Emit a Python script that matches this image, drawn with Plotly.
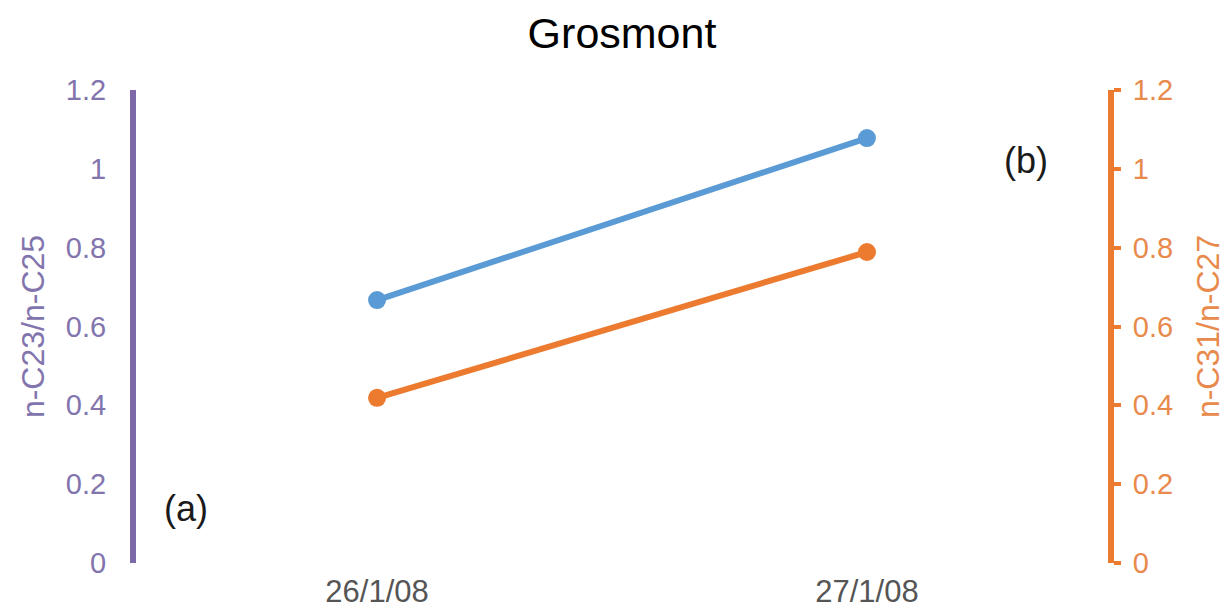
import plotly.graph_objects as go

dates = ["26/1/08", "27/1/08"]
c23_c25 = [0.667, 1.078]
c31_c27 = [0.419, 0.789]
y_ticks = [0, 0.2, 0.4, 0.6, 0.8, 1.0, 1.2]

PURPLE = "#7d68a9"
PURPLE_TXT = "#8274ad"
ORANGE = "#ec7b30"
ORANGE_TXT = "#e88a4c"
BLUE = "#5b9bd5"
FONT = "Liberation Sans, Arial, sans-serif"

# page body has an 8px margin; figure sized to fit the window
W, H = 1221, 604
L, R, T, B = 128, 121, 82, 49
OFF = 8

fig = go.Figure()
fig.add_trace(go.Scatter(x=dates, y=c23_c25, mode="lines+markers",
                         line=dict(color=BLUE, width=6),
                         marker=dict(color=BLUE, size=18),
                         yaxis="y", showlegend=False))
fig.add_trace(go.Scatter(x=dates, y=c31_c27, mode="lines+markers",
                         line=dict(color=ORANGE, width=6),
                         marker=dict(color=ORANGE, size=18),
                         yaxis="y2", showlegend=False))

pw = W - L - R
ph = H - T - B


def px_to_paper(px, py):
    return (px - OFF - L) / pw, (H - B + OFF - py) / ph


ax_, ay_ = px_to_paper(186, 508)
bx_, by_ = px_to_paper(1026, 160)

fig.update_layout(
    width=W, height=H,
    margin=dict(l=L, r=R, t=T, b=B, autoexpand=False),
    paper_bgcolor="white", plot_bgcolor="white",
    font=dict(family=FONT),
    title=dict(text="Grosmont", x=0.5, xanchor="center", xref="paper",
               y=1 - (33 - OFF) / H, yanchor="middle", yref="container",
               font=dict(size=43, color="#000000", family=FONT)),
    xaxis=dict(type="category", range=[-0.492, 1.492], showline=False,
               showgrid=False, zeroline=False, ticks="", automargin=False,
               tickfont=dict(size=31, color="#555555", family=FONT),
               ticklabelstandoff=7),
    yaxis=dict(range=[0, 1.2], tickvals=y_ticks, showgrid=False, zeroline=False,
               showline=True, linecolor=PURPLE, linewidth=6, ticks="",
               automargin=False, ticklabelstandoff=18,
               tickfont=dict(size=29, color=PURPLE_TXT, family=FONT),
               title=dict(text="n-C23/n-C25", standoff=14,
                          font=dict(size=32, color=PURPLE_TXT, family=FONT))),
    yaxis2=dict(range=[0, 1.2], tickvals=y_ticks, overlaying="y", side="right",
                showgrid=False, zeroline=False, showline=True, automargin=False,
                linecolor=ORANGE, linewidth=6, ticks="outside", ticklen=7,
                tickwidth=4, tickcolor=ORANGE, ticklabelstandoff=6,
                tickfont=dict(size=29, color=ORANGE_TXT, family=FONT),
                title=dict(text="n-C31/n-C27", standoff=26,
                           font=dict(size=32, color=ORANGE_TXT, family=FONT))),
    annotations=[
        dict(text="(a)", x=ax_, y=ay_, xref="paper", yref="paper",
             xanchor="center", yanchor="middle",
             showarrow=False, font=dict(size=36, color="#1a1a1a", family=FONT)),
        dict(text="(b)", x=bx_, y=by_, xref="paper", yref="paper",
             xanchor="center", yanchor="middle",
             showarrow=False, font=dict(size=36, color="#1a1a1a", family=FONT)),
    ],
)

fig.write_html("out.html")
